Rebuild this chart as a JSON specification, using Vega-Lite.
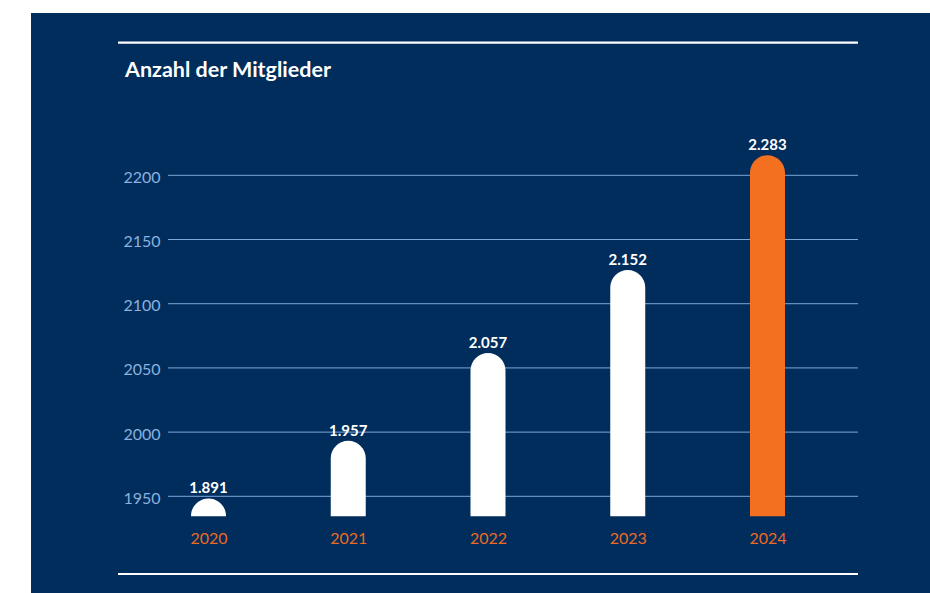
{
  "$schema": "https://vega.github.io/schema/vega-lite/v6.json",
  "width": 899,
  "height": 580,
  "autosize": "none",
  "padding": {"left": 31, "top": 13, "right": 0, "bottom": 0},
  "background": "white",
  "config": {
    "view": {"fill": "#002D5C", "stroke": null},
    "font": "Lato"
  },
  "title": {
    "text": "Anzahl der Mitglieder",
    "anchor": "start",
    "frame": "group",
    "dx": 94,
    "offset": -68,
    "baseline": "top",
    "fontSize": 21.5,
    "fontWeight": "bold",
    "color": "white",
    "font": "Lato"
  },
  "datasets": {
    "members": [
      {"Jahr": 2020, "Mitglieder": 1891, "Label": "1.891"},
      {"Jahr": 2021, "Mitglieder": 1957, "Label": "1.957"},
      {"Jahr": 2022, "Mitglieder": 2057, "Label": "2.057"},
      {"Jahr": 2023, "Mitglieder": 2152, "Label": "2.152"},
      {"Jahr": 2024, "Mitglieder": 2283, "Label": "2.283"}
    ],
    "grid": [
      {"Wert": 1950}, {"Wert": 2000}, {"Wert": 2050},
      {"Wert": 2100}, {"Wert": 2150}, {"Wert": 2200}
    ],
    "frame": [{"Linie": 2303.4}, {"Linie": 1889.5}]
  },
  "layer": [
    {
      "layer": [
        {
          "data": {"name": "grid"},
          "mark": {"type": "rule", "color": "#7DA7DA", "strokeWidth": 1},
          "encoding": {
            "y": {
              "field": "Wert",
              "type": "quantitative",
              "scale": {"domain": [1874.7, 2326.4], "nice": false, "zero": false},
              "axis": {
                "values": [1950, 2000, 2050, 2100, 2150, 2200],
                "format": "d",
                "title": null,
                "orient": "left",
                "offset": -137,
                "labelPadding": 8,
                "ticks": false,
                "tickSize": 0,
                "domain": false,
                "grid": false,
                "labelColor": "#8CB0DF",
                "labelFontSize": 16,
                "labelFont": "Lato",
                "labelOffset": 2
              }
            },
            "x": {
              "datum": 2019.7102,
              "type": "quantitative",
              "scale": {"domain": [2018.7299, 2025.1628], "nice": false, "zero": false, "padding": 0},
              "axis": {
                "values": [2020, 2021, 2022, 2023, 2024],
                "format": "d",
                "title": null,
                "orient": "bottom",
                "offset": -63,
                "labelPadding": 0,
                "ticks": false,
                "tickSize": 0,
                "domain": false,
                "grid": false,
                "labelColor": "#EE6A22",
                "labelFontSize": 16,
                "labelFont": "Lato",
                "zindex": 1
              }
            },
            "x2": {"datum": 2024.6476}
          }
        },
        {
          "data": {"name": "frame"},
          "mark": {"type": "rule", "color": "white", "strokeWidth": 2.2},
          "encoding": {
            "y": {"field": "Linie", "type": "quantitative", "axis": {"title": null, "values": [1950, 2000, 2050, 2100, 2150, 2200], "format": "d"}},
            "x": {"datum": 2019.3524, "type": "quantitative"},
            "x2": {"datum": 2024.6476}
          }
        }
      ]
    },
    {
      "data": {"name": "members"},
      "layer": [
        {
          "mark": {"type": "bar", "width": 35, "cornerRadiusTopLeft": 17.5, "cornerRadiusTopRight": 17.5},
          "encoding": {
            "x": {"field": "Jahr", "type": "quantitative", "axis": {"values": [2020, 2021, 2022, 2023, 2024], "format": "d", "title": null}},
            "y": {
              "field": "Mitglieder",
              "type": "quantitative",
              "scale": {"domain": [1783.0, 2445.5], "nice": false, "zero": false},
              "axis": null
            },
            "y2": {"datum": 1850.6},
            "color": {
              "condition": {"test": "datum.Jahr === 2024", "value": "#F37021"},
              "value": "white"
            }
          }
        },
        {
          "mark": {"type": "bar", "width": 39, "color": "#002D5C"},
          "encoding": {
            "x": {"field": "Jahr", "type": "quantitative"},
            "y": {"datum": 1848, "type": "quantitative"},
            "y2": {"datum": 1870.6}
          }
        },
        {
          "mark": {
            "type": "text",
            "dy": -5,
            "baseline": "alphabetic",
            "fontSize": 15,
            "fontWeight": "bold",
            "color": "white",
            "font": "Lato"
          },
          "encoding": {
            "x": {"field": "Jahr", "type": "quantitative"},
            "y": {"field": "Mitglieder", "type": "quantitative"},
            "text": {"field": "Label"}
          }
        }
      ]
    }
  ],
  "resolve": {"scale": {"y": "independent"}}
}
